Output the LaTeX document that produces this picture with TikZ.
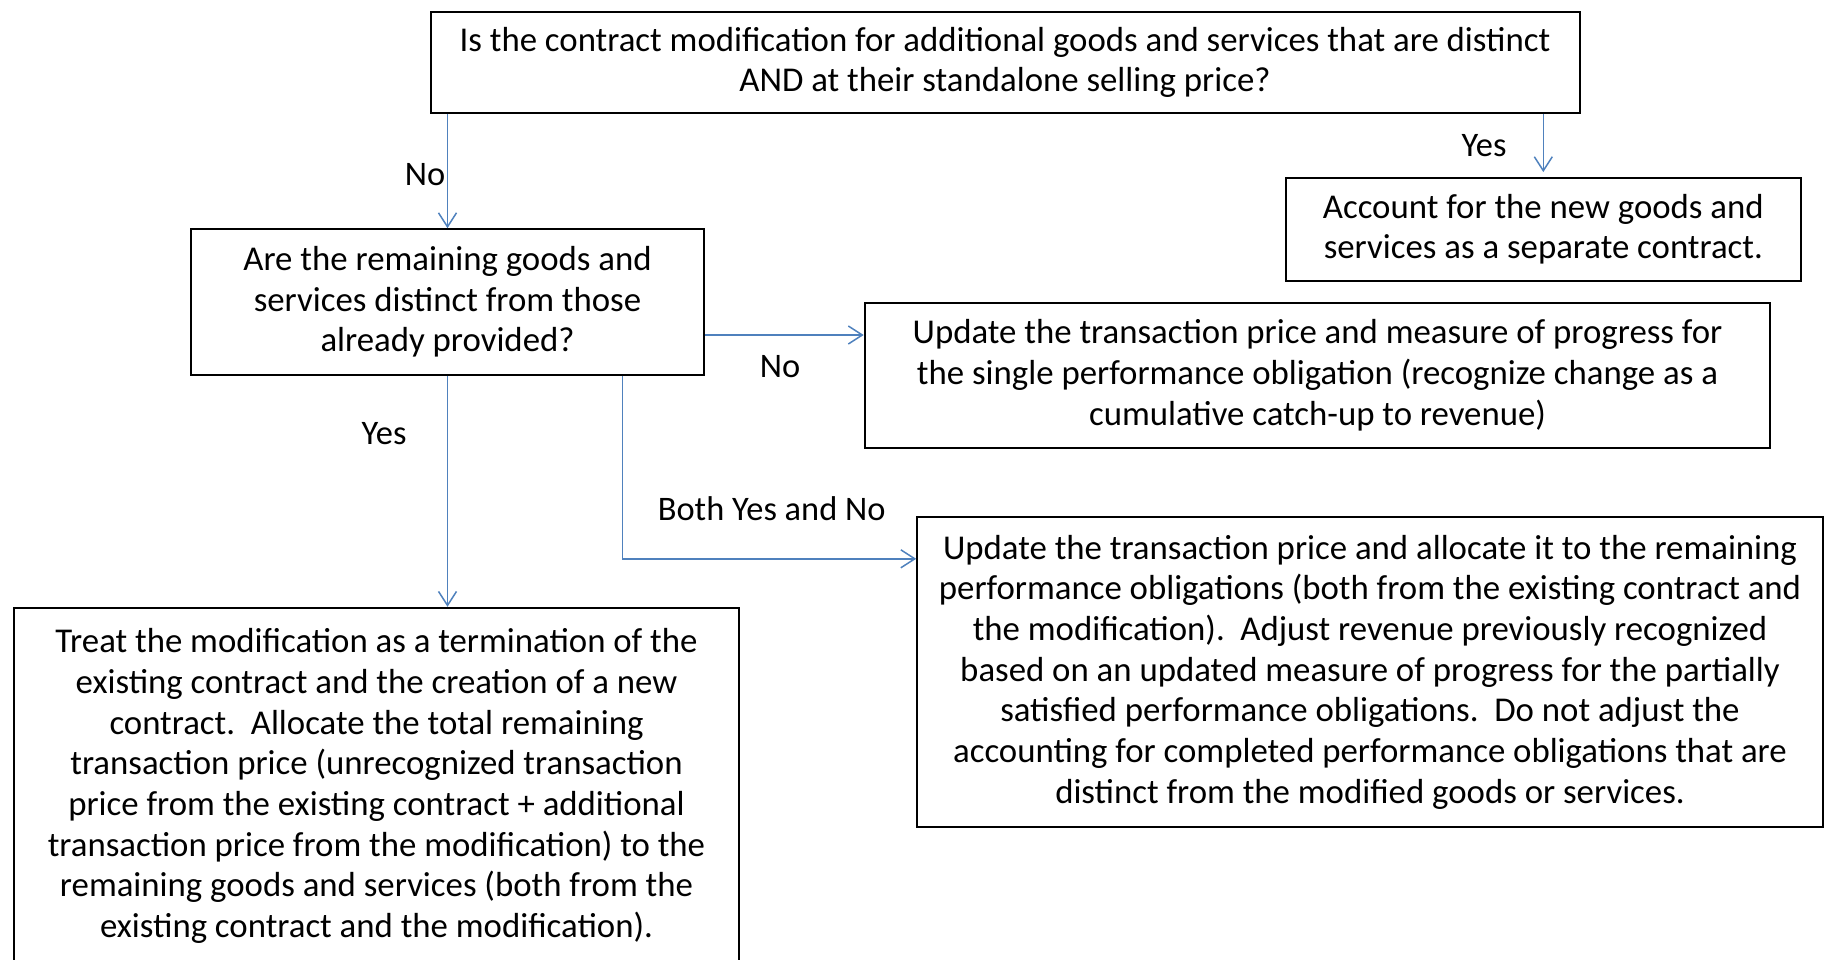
\documentclass[tikz,border=0pt]{standalone}
\usepackage{fontspec}
\setmainfont{Carlito}
\usetikzlibrary{arrows.meta}

\definecolor{linkblue}{HTML}{4F81BD}

\tikzset{
  box/.style={draw=black, line width=1pt, align=center, inner sep=0pt,
    font=\fontsize{17.4}{20.35}\selectfont},
  flow/.style={draw=linkblue, line width=0.75pt, -{Straight Barb[length=7pt,width=9pt]}},
  lbl/.style={font=\fontsize{17.2}{20}\selectfont}
}

\begin{document}
\begin{tikzpicture}[x=0.5pt, y=-0.5pt]
      \useasboundingbox (0,0) rectangle (1825,959);

      \node[box, minimum width=574.5pt, minimum height=50.6pt] (modq) at (1005,62.3)
        {Is the contract modification for additional goods and services that are distinct\\
         AND at their standalone selling price?};
      \node[box, minimum width=257.2pt, minimum height=51.2pt] (separate) at (1543.3,229.3)
        {Account for the new goods and\\ services as a separate contract.};
      \node[box, minimum width=256.6pt, minimum height=72.8pt] (distinctq) at (447.5,302)
        {Are the remaining goods and\\ services distinct from those\\ already provided?};
      \node[box, minimum width=452.8pt, minimum height=72.8pt] (cumulative) at (1317.5,375.4)
        {Update the transaction price and measure of progress for\\
         the single performance obligation (recognize change as a\\
         cumulative catch-up to revenue)};
      \node[box, minimum width=452.8pt, minimum height=155.4pt] (allocate) at (1370,672)
        {Update the transaction price and allocate it to the remaining\\
         performance obligations (both from the existing contract and\\
         the modification).\ \ Adjust revenue previously recognized\\
         based on an updated measure of progress for the partially\\
         satisfied performance obligations.\ \ Do not adjust the\\
         accounting for completed performance obligations that are\\
         distinct from the modified goods or services.};
      \node[box, minimum width=362.5pt, minimum height=178.2pt] (terminate) at (376.5,786)
        {Treat the modification as a termination of the\\
         existing contract and the creation of a new\\
         contract.\ \ Allocate the total remaining\\
         transaction price (unrecognized transaction\\
         price from the existing contract + additional\\
         transaction price from the modification) to the\\
         remaining goods and services (both from the\\
         existing contract and the modification).};

      \draw[flow] (distinctq.north |- modq.south) -- (distinctq.north);
      \draw[flow] (separate.north |- modq.south) -- ([yshift=2.5pt]separate.north);
      \coordinate (nostart) at ([yshift=-16.5pt]distinctq.east);
      \draw[flow] (nostart) -- (nostart -| cumulative.west);
      \draw[flow] (distinctq.south) -- (distinctq.south |- terminate.north);
      \draw[flow] ([xshift=87.6pt]distinctq.south) |- ([yshift=56.6pt]allocate.west);

      \node[lbl] (nolabel) at (425,174.6) {No};
      \node[lbl] (yeslabel) at (1484,145.5) {Yes};
      \node[lbl] (nolabel2) at (780,366.6) {No};
      \node[lbl] (yeslabel2) at (384,434) {Yes};
      \node[lbl] (bothlabel) at (771.7,508.6) {Both Yes and No};
\end{tikzpicture}
\end{document}
